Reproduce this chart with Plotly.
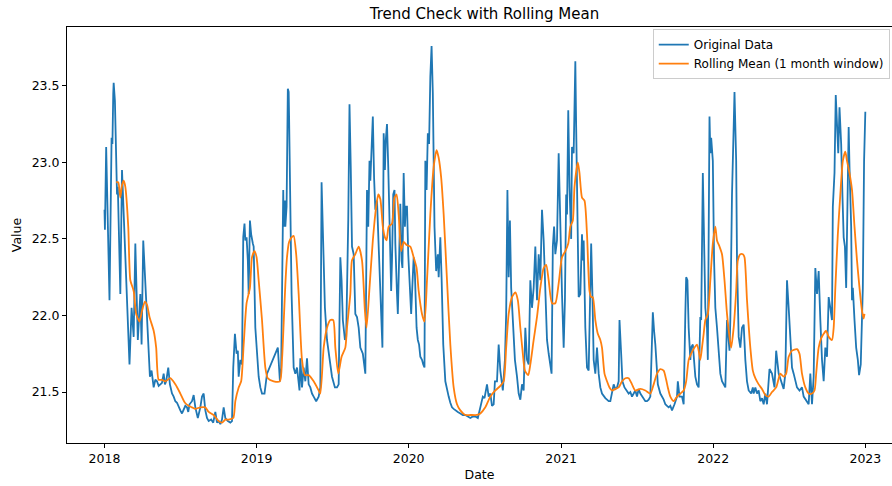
import pandas as pd
import plotly.graph_objects as go

# Daily series, stored as (days since 2018-01-01, value) vertices
START = pd.Timestamp("2018-01-01")

orig_days = [
    0, 1, 4, 12, 17, 19, 21, 22, 25, 30, 32, 38, 42, 44, 60, 65, 70, 74, 80, 86,
    89, 93, 105, 109, 113, 118, 122, 126, 130, 134, 138, 142, 145, 148, 153, 157, 162, 166, 170, 174,
    178, 182, 186, 190, 194, 198, 201, 204, 210, 214, 218, 224, 230, 234, 238, 242, 246, 250, 256, 261,
    266, 270, 274, 278, 282, 286, 290, 296, 302, 306, 309, 313, 317, 320, 322, 326, 330, 333, 336, 338,
    341, 344, 346, 349, 352, 356, 358, 362, 366, 370, 374, 378, 384, 390, 416, 421, 424, 429, 430, 433,
    434, 437, 440, 442, 443, 446, 449, 454, 458, 462, 468, 470, 474, 478, 482, 486, 490, 494, 498, 502,
    508, 514, 518, 521, 524, 529, 534, 540, 546, 553, 558, 562, 566, 569, 572, 577, 580, 585, 588, 591,
    594, 598, 602, 606, 610, 614, 620, 626, 630, 633, 636, 638, 644, 647, 650, 654, 660, 667, 670, 673,
    675, 678, 681, 685, 688, 690, 693, 696, 698, 702, 704, 707, 710, 713, 715, 718, 721, 723, 726, 729,
    733, 736, 738, 742, 745, 749, 752, 755, 758, 762, 765, 768, 770, 773, 776, 779, 782, 785, 788, 792,
    796, 800, 802, 806, 809, 813, 818, 822, 826, 830, 834, 838, 842, 848, 854, 860, 866, 872, 878, 884,
    890, 896, 902, 908, 912, 918, 922, 926, 930, 934, 937, 942, 946, 950, 956, 961, 964, 967, 970, 973,
    976, 980, 985, 990, 994, 998, 1002, 1006, 1010, 1014, 1018, 1022, 1026, 1030, 1034, 1038, 1042, 1046, 1050, 1054,
    1058, 1062, 1066, 1073, 1076, 1079, 1082, 1086, 1090, 1094, 1098, 1102, 1105, 1108, 1110, 1113, 1116, 1120, 1122, 1126,
    1130, 1132, 1136, 1138, 1142, 1146, 1148, 1150, 1154, 1158, 1162, 1164, 1168, 1171, 1174, 1178, 1182, 1186, 1190, 1194,
    1198, 1202, 1206, 1210, 1214, 1218, 1222, 1226, 1230, 1234, 1236, 1240, 1243, 1248, 1254, 1258, 1262, 1266, 1270, 1274,
    1278, 1282, 1286, 1290, 1294, 1298, 1302, 1306, 1310, 1314, 1316, 1319, 1322, 1328, 1334, 1342, 1346, 1350, 1354, 1358,
    1362, 1368, 1374, 1376, 1380, 1386, 1390, 1394, 1396, 1399, 1402, 1406, 1408, 1412, 1414, 1418, 1422, 1426, 1430, 1432,
    1436, 1439, 1442, 1446, 1448, 1452, 1454, 1456, 1460, 1463, 1466, 1470, 1474, 1478, 1482, 1486, 1490, 1494, 1496, 1500,
    1502, 1506, 1510, 1512, 1516, 1518, 1522, 1526, 1530, 1534, 1538, 1542, 1546, 1552, 1556, 1558, 1562, 1566, 1570, 1574,
    1578, 1582, 1586, 1590, 1596, 1602, 1608, 1612, 1618, 1624, 1630, 1634, 1638, 1642, 1646, 1650, 1654, 1658, 1662, 1668,
    1674, 1678, 1684, 1690, 1694, 1698, 1702, 1706, 1710, 1714, 1718, 1722, 1726, 1730, 1734, 1738, 1742, 1746, 1748, 1752,
    1755, 1758, 1761, 1764, 1768, 1771, 1774, 1777, 1780, 1784, 1786, 1788, 1792, 1794, 1796, 1800, 1804, 1808, 1811, 1815,
    1820, 1823, 1826,
]
orig_vals = [
    22.69, 22.56, 23.10, 22.10, 23.16, 23.12, 23.45, 23.52, 23.40, 22.79, 22.84, 22.14, 22.95, 22.80, 21.68, 22.05, 21.86, 22.47, 21.84, 22.14,
    21.81, 22.49, 21.75, 21.60, 21.64, 21.53, 21.58, 21.57, 21.54, 21.55, 21.56, 21.62, 21.55, 21.57, 21.66, 21.55, 21.49, 21.47, 21.44, 21.43,
    21.40, 21.38, 21.36, 21.38, 21.41, 21.40, 21.37, 21.42, 21.44, 21.48, 21.40, 21.33, 21.40, 21.47, 21.49, 21.38, 21.33, 21.31, 21.32, 21.30,
    21.37, 21.30, 21.31, 21.29, 21.32, 21.40, 21.33, 21.31, 21.30, 21.31, 21.66, 21.88, 21.75, 21.77, 21.60, 21.71, 21.68, 22.51, 22.60, 22.49,
    22.51, 22.36, 22.14, 22.62, 22.53, 22.47, 22.45, 21.92, 21.72, 21.60, 21.53, 21.49, 21.49, 21.62, 21.79, 21.57, 21.66, 22.82, 22.58, 22.75,
    22.58, 22.71, 23.48, 23.46, 23.30, 22.60, 22.14, 21.66, 21.62, 21.66, 21.51, 21.72, 21.53, 21.66, 21.57, 21.72, 21.55, 21.53, 21.49, 21.47,
    21.44, 21.47, 21.53, 22.87, 22.58, 22.05, 21.84, 21.71, 21.60, 21.53, 21.53, 21.55, 22.38, 22.23, 21.97, 21.84, 21.86, 22.62, 23.38, 22.97,
    22.45, 22.40, 22.01, 21.99, 21.92, 21.79, 21.75, 21.62, 22.82, 22.58, 23.01, 22.88, 23.30, 22.90, 22.69, 22.75, 22.36, 21.79, 23.19, 22.95,
    23.14, 23.25, 22.97, 22.36, 22.16, 22.36, 22.79, 22.82, 22.47, 22.14, 22.01, 22.36, 22.73, 22.36, 22.31, 22.93, 22.58, 22.71, 22.71, 22.40,
    22.14, 22.01, 22.14, 22.38, 22.27, 21.92, 21.84, 21.81, 21.73, 21.71, 21.68, 21.66, 23.01, 22.82, 23.19, 23.12, 23.56, 23.76, 23.45, 22.58,
    22.29, 22.40, 22.25, 22.51, 22.25, 21.81, 21.57, 21.51, 21.47, 21.43, 21.40, 21.39, 21.38, 21.37, 21.36, 21.35, 21.35, 21.34, 21.33, 21.34,
    21.34, 21.33, 21.40, 21.47, 21.46, 21.55, 21.47, 21.49, 21.41, 21.42, 21.57, 21.57, 21.81, 21.64, 21.51, 21.71, 22.01, 22.82, 22.25, 22.62,
    22.18, 21.92, 21.71, 21.60, 21.49, 21.45, 21.55, 21.51, 21.92, 21.71, 21.68, 22.23, 22.05, 22.18, 22.45, 22.10, 22.40, 22.23, 22.69, 22.49,
    22.10, 21.84, 21.75, 21.62, 22.45, 22.58, 22.40, 22.49, 23.06, 22.47, 22.14, 21.79, 22.10, 22.79, 22.66, 23.34, 22.84, 22.50, 23.10, 23.06,
    23.66, 23.23, 22.53, 22.12, 22.14, 22.53, 22.36, 22.49, 21.92, 21.66, 21.64, 21.92, 22.47, 22.14, 21.71, 21.62, 21.79, 21.62, 21.53, 21.49,
    21.47, 21.46, 21.45, 21.44, 21.44, 21.49, 21.55, 21.52, 21.53, 21.57, 21.97, 21.75, 21.57, 21.53, 21.51, 21.49, 21.50, 21.47, 21.49, 21.51,
    21.47, 21.52, 21.49, 21.47, 21.45, 21.44, 21.44, 21.45, 21.47, 21.79, 22.02, 21.90, 21.81, 21.55, 21.49, 21.45, 21.42, 21.41, 21.40, 21.41,
    21.38, 21.42, 21.47, 21.57, 21.47, 21.47, 21.42, 22.01, 22.25, 22.23, 21.92, 21.71, 21.79, 21.81, 21.71, 21.60, 21.55, 21.53, 21.99, 21.97,
    22.93, 22.58, 22.05, 21.92, 21.71, 23.30, 23.06, 23.16, 23.01, 22.36, 22.05, 21.92, 21.75, 21.62, 21.57, 21.55, 21.53, 21.97, 21.88, 21.77,
    21.97, 22.79, 23.23, 23.46, 23.01, 22.36, 21.86, 21.79, 21.92, 21.94, 21.71, 21.57, 21.51, 21.49, 21.53, 21.49, 21.53, 21.49, 21.51, 21.44,
    21.46, 21.42, 21.49, 21.42, 21.65, 21.62, 21.53, 21.77, 21.62, 21.57, 21.52, 21.62, 22.23, 22.05, 21.81, 21.66, 21.62, 21.57, 21.53, 21.51,
    21.53, 21.47, 21.44, 21.42, 21.62, 21.42, 21.60, 22.31, 22.14, 22.29, 21.97, 21.71, 21.57, 21.79, 21.73, 22.12, 22.05, 21.97, 22.71, 22.93,
    23.44, 23.23, 23.06, 23.36, 23.12, 22.79, 22.51, 22.45, 22.18, 22.88, 23.23, 22.97, 22.58, 22.10, 22.18, 21.97, 21.79, 21.71, 21.61, 21.68,
    22.18, 23.01, 23.33,
]

# 30-day trailing mean of the series above
roll_days = [
    28, 33, 38, 42, 46, 50, 57, 62, 70, 76, 84, 90, 97, 102, 108, 118, 124, 130, 138, 146,
    158, 170, 182, 193, 202, 210, 218, 230, 242, 250, 262, 274, 282, 290, 298, 309, 314, 322, 328, 334,
    341, 349, 354, 360, 365, 370, 378, 386, 392, 406, 421, 426, 430, 434, 438, 443, 449, 454, 460, 466,
    474, 481, 490, 502, 514, 518, 526, 534, 542, 549, 554, 561, 569, 578, 582, 590, 594, 602, 610, 618,
    625, 629, 636, 644, 652, 657, 662, 668, 673, 677, 682, 690, 696, 701, 706, 712, 718, 725, 734, 742,
    749, 754, 762, 768, 774, 782, 790, 797, 802, 808, 814, 822, 830, 838, 846, 854, 866, 878, 894, 902,
    914, 926, 938, 950, 958, 964, 970, 978, 986, 992, 998, 1004, 1009, 1017, 1022, 1030, 1038, 1046, 1054, 1060,
    1066, 1074, 1082, 1090, 1098, 1106, 1113, 1118, 1124, 1128, 1136, 1140, 1146, 1152, 1158, 1164, 1168, 1172, 1178, 1184,
    1190, 1194, 1200, 1206, 1212, 1218, 1226, 1234, 1242, 1250, 1258, 1266, 1274, 1286, 1298, 1310, 1318, 1326, 1334, 1342,
    1348, 1352, 1358, 1366, 1374, 1382, 1390, 1396, 1402, 1408, 1416, 1422, 1426, 1430, 1434, 1438, 1442, 1448, 1454, 1460,
    1466, 1470, 1476, 1482, 1488, 1494, 1500, 1504, 1510, 1516, 1520, 1526, 1532, 1536, 1542, 1550, 1556, 1562, 1570, 1578,
    1586, 1594, 1602, 1612, 1622, 1630, 1636, 1642, 1650, 1662, 1668, 1674, 1682, 1690, 1698, 1704, 1708, 1714, 1720, 1726,
    1732, 1738, 1746, 1750, 1754, 1760, 1766, 1772, 1778, 1782, 1788, 1794, 1800, 1806, 1812, 1818, 1822, 1824,
]
roll_vals = [
    22.87, 22.87, 22.77, 22.85, 22.88, 22.84, 22.58, 22.23, 22.16, 22.01, 21.96, 22.03, 22.09, 22.07, 21.99, 21.90, 21.79, 21.58, 21.58, 21.57,
    21.59, 21.55, 21.49, 21.43, 21.41, 21.40, 21.39, 21.40, 21.40, 21.37, 21.35, 21.31, 21.30, 21.32, 21.32, 21.33, 21.44, 21.53, 21.57, 21.81,
    22.08, 22.18, 22.38, 22.42, 22.38, 22.23, 21.97, 21.66, 21.59, 21.57, 21.57, 21.71, 21.95, 22.20, 22.38, 22.48, 22.51, 22.52, 22.40, 22.14,
    21.71, 21.61, 21.61, 21.57, 21.51, 21.49, 21.79, 21.92, 21.97, 21.97, 21.79, 21.62, 21.73, 21.79, 21.92, 22.14, 22.36, 22.40, 22.45, 22.36,
    22.03, 21.92, 22.18, 22.49, 22.71, 22.79, 22.76, 22.58, 22.51, 22.49, 22.58, 22.60, 22.77, 22.79, 22.66, 22.42, 22.48, 22.46, 22.45, 22.38,
    22.31, 22.16, 22.01, 21.96, 22.23, 22.66, 22.97, 23.08, 23.03, 22.90, 22.66, 22.23, 21.81, 21.53, 21.42, 21.38, 21.35, 21.35, 21.35, 21.36,
    21.40, 21.47, 21.51, 21.54, 21.57, 21.79, 22.01, 22.12, 22.15, 22.10, 21.92, 21.75, 21.64, 21.61, 21.68, 21.84, 21.99, 22.18, 22.31, 22.33,
    22.23, 22.08, 22.08, 22.21, 22.38, 22.42, 22.47, 22.58, 22.62, 22.84, 23.00, 22.93, 22.77, 22.75, 22.53, 22.16, 22.12, 22.12, 21.97, 21.88,
    21.84, 21.79, 21.62, 21.57, 21.53, 21.51, 21.52, 21.53, 21.57, 21.59, 21.59, 21.55, 21.51, 21.52, 21.51, 21.49, 21.55, 21.62, 21.65, 21.64,
    21.58, 21.53, 21.47, 21.44, 21.47, 21.49, 21.51, 21.57, 21.71, 21.75, 21.79, 21.81, 21.77, 21.71, 21.79, 21.88, 21.97, 22.01, 22.23, 22.47,
    22.58, 22.49, 22.45, 22.40, 22.23, 22.01, 21.86, 21.79, 21.92, 22.16, 22.36, 22.40, 22.40, 22.38, 22.10, 21.79, 21.64, 21.59, 21.55, 21.52,
    21.48, 21.47, 21.50, 21.53, 21.62, 21.60, 21.62, 21.73, 21.77, 21.78, 21.75, 21.62, 21.53, 21.49, 21.49, 21.51, 21.62, 21.79, 21.85, 21.88,
    21.90, 21.86, 21.84, 21.92, 22.18, 22.53, 22.79, 23.01, 23.07, 23.01, 22.93, 22.82, 22.58, 22.36, 22.18, 22.03, 21.98, 22.01,
]

year_ticks = ["2018-01-01", "2019-01-01", "2020-01-01", "2021-01-01", "2022-01-01", "2023-01-01"]
year_labels = ["2018", "2019", "2020", "2021", "2022", "2023"]
value_ticks = [21.5, 22.0, 22.5, 23.0, 23.5]

orig_dates = START + pd.to_timedelta(orig_days, unit="D")
roll_dates = START + pd.to_timedelta(roll_days, unit="D")

fig = go.Figure()
fig.add_trace(go.Scatter(
    x=orig_dates, y=orig_vals, mode="lines", name="Original Data",
    line=dict(color="#1f77b4", width=1.8),
))
fig.add_trace(go.Scatter(
    x=roll_dates, y=roll_vals, mode="lines", name="Rolling Mean (1 month window)",
    line=dict(color="#ff7f0e", width=1.8, shape="spline", smoothing=0.6),
))

font_family = "DejaVu Sans"
fig.update_layout(
    width=892, height=486,
    margin=dict(l=67, r=0, t=27, b=43),
    paper_bgcolor="white", plot_bgcolor="white",
    font=dict(family=font_family, size=12.5, color="black"),
    title=dict(
        text="Trend Check with Rolling Mean",
        x=0.506, xref="paper", xanchor="center",
        y=1 - 14 / 486, yref="container", yanchor="middle",
        font=dict(size=15, color="black"),
    ),
    showlegend=True,
    legend=dict(
        x=0.71, y=0.995, xanchor="left", yanchor="top",
        bgcolor="rgba(255,255,255,0.8)", bordercolor="#cccccc", borderwidth=1,
        font=dict(size=12, color="black"),
        tracegroupgap=0,
    ),
)
fig.update_xaxes(
    range=["2017-10-03", "2023-03-06"],
    tickvals=year_ticks, ticktext=year_labels,
    showline=True, linecolor="black", linewidth=1, mirror=True,
    ticks="outside", ticklen=4, tickwidth=1, tickcolor="black",
    showgrid=False, zeroline=False,
    title=dict(text="Date", font=dict(size=12.5), standoff=5),
)
fig.update_yaxes(
    range=[21.167, 23.884],
    tickvals=value_ticks, tickformat=".1f",
    showline=True, linecolor="black", linewidth=1, mirror=False,
    ticks="outside", ticklen=4, tickwidth=1, tickcolor="black",
    showgrid=False, zeroline=False,
    title=dict(text="Value", font=dict(size=12.5), standoff=7),
)

fig.write_html("out.html")
